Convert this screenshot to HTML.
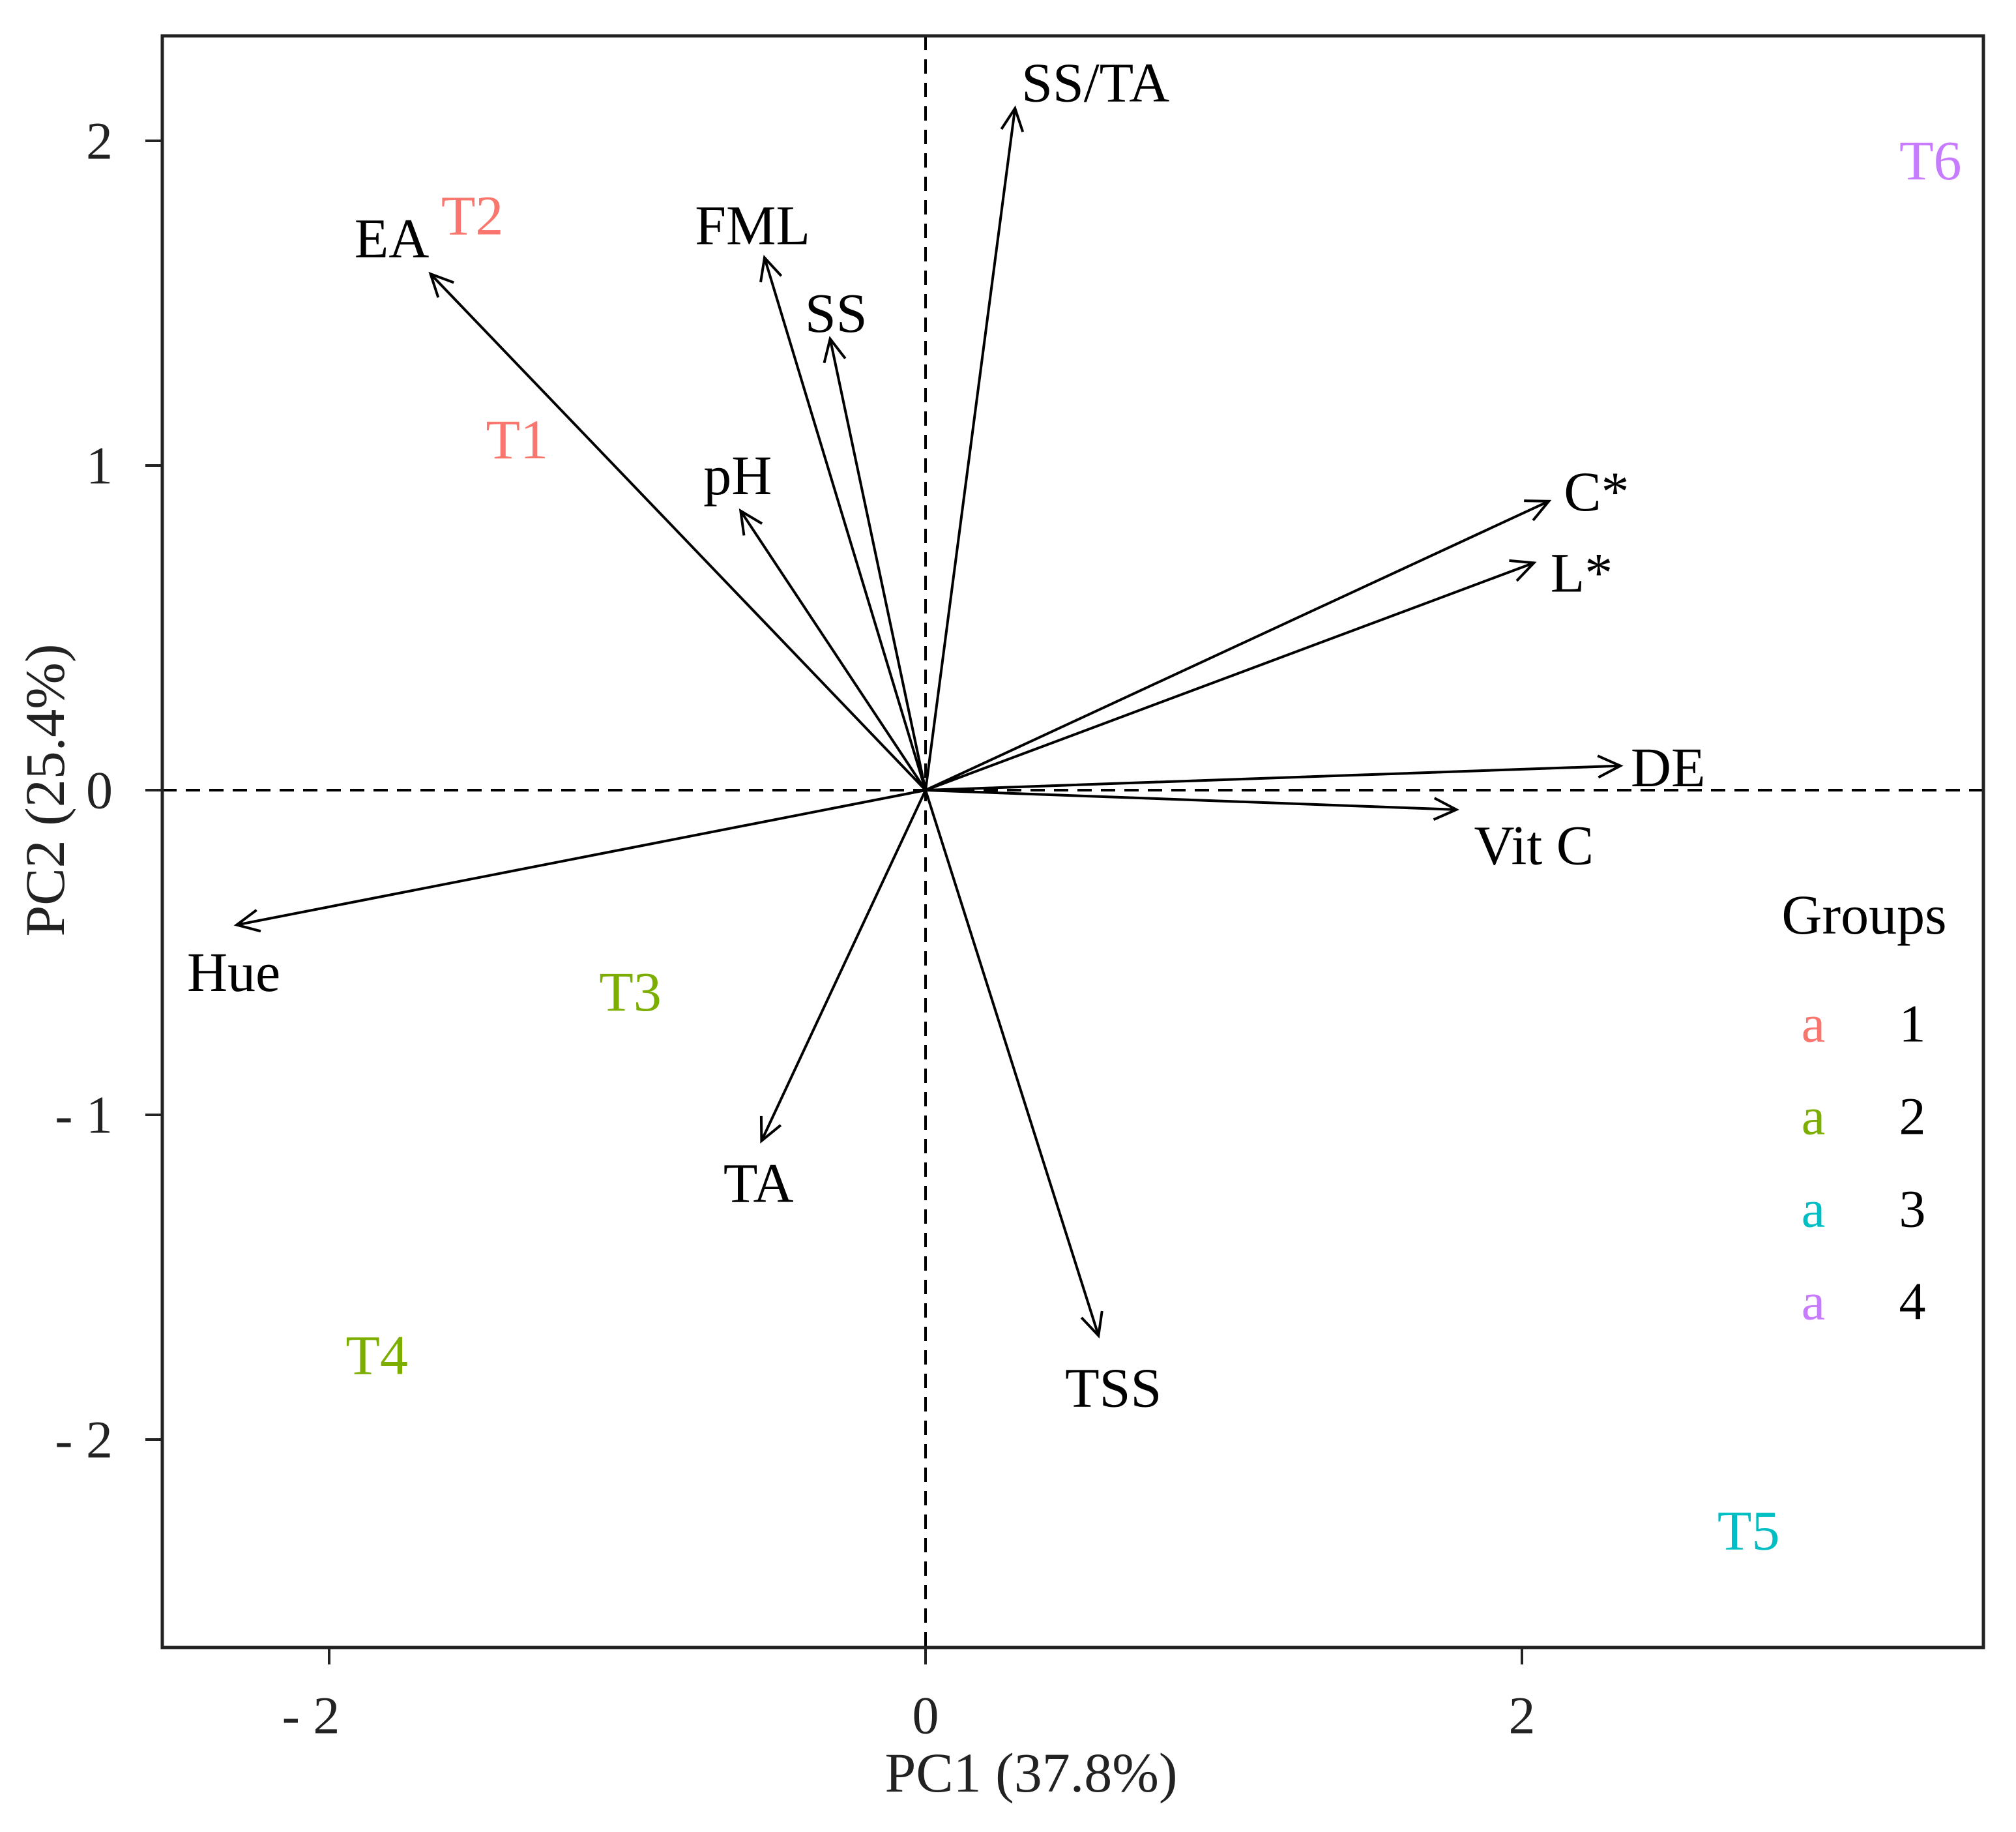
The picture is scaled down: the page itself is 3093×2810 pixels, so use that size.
<!DOCTYPE html>
<html><head><meta charset="utf-8"><style>
html,body{margin:0;padding:0;background:#fff;}
svg{display:block;font-family:"Liberation Serif",serif;}
</style></head><body>
<svg id="chart" width="3093" height="2810" viewBox="0 0 3093 2810" xmlns="http://www.w3.org/2000/svg">
<g id="plot"></g>
</svg>
<script>
const varNames = ["SS/TA","FML","SS","EA","pH","C*","L*","DE","Vit C","Hue","TA","TSS"];
const varX = [0.30,-0.54,-0.32,-1.66,-0.62,2.09,2.04,2.33,1.78,-2.31,-0.55,0.58];
const varY = [2.10,1.64,1.39,1.59,0.86,0.89,0.70,0.075,-0.06,-0.415,-1.08,-1.68];
const labelX = [0.57,-0.58,-0.30,-1.79,-0.63,2.25,2.20,2.49,2.04,-2.32,-0.56,0.63];
const labelY = [2.18,1.74,1.47,1.70,0.97,0.92,0.67,0.07,-0.17,-0.56,-1.21,-1.84];
const obsNames = ["T1","T2","T3","T4","T5","T6"];
const obsX = [-1.37,-1.52,-0.99,-1.84,2.76,3.37];
const obsY = [1.08,1.77,-0.62,-1.74,-2.28,1.94];
const obsGroup = [1,1,2,2,3,4];
const groupColors = ["#F8766D","#7CAE00","#00BFC4","#C77CFF"];
const groupLabels = ["1","2","3","4"];
const xTicks = [-2,0,2];
const xTickLabels = ["- 2","0","2"];
const yTicks = [-2,-1,0,1,2];
const yTickLabels = ["- 2","- 1","0","1","2"];

const L=249,R=3043,T=55,B=2527;
const sx=v=>1420+v*457.5;
const sy=v=>1212-v*498;
const NS="http://www.w3.org/2000/svg";
const g=document.getElementById('plot');
function mk(tag,attrs,parent){const e=document.createElementNS(NS,tag);for(const k in attrs)e.setAttribute(k,attrs[k]);(parent||g).appendChild(e);return e;}
function txt(x,y,s,size,fill,anchor){const t=mk('text',{x:x,y:y,'font-size':size,fill:fill,'text-anchor':anchor||'middle','dominant-baseline':'central'});t.textContent=s;return t;}

let e=mk('line',{x1:sx(0),x2:sx(0),y1:T,y2:B,stroke:'#000','stroke-width':4,'stroke-dasharray':'22,14'});


e=mk('line',{x1:L,x2:R,y1:sy(0),y2:sy(0),stroke:'#000','stroke-width':4,'stroke-dasharray':'22,14'});



for(let i=0;i<varNames.length;i++){
  const x0=sx(0),y0=sy(0),x1=sx(varX[i]),y1=sy(varY[i]);
  const a=Math.atan2(y1-y0,x1-x0),h=38,w=0.45;
  const p=`M${x0},${y0}L${x1},${y1}M${x1-h*Math.cos(a-w)},${y1-h*Math.sin(a-w)}L${x1},${y1}L${x1-h*Math.cos(a+w)},${y1-h*Math.sin(a+w)}`;
  const ar=mk('path',{d:p,stroke:'#000','stroke-width':4,fill:'none'});
  
  
  const lb=txt(sx(labelX[i]),sy(labelY[i]),varNames[i],86,'#000');
  
  
}
for(let i=0;i<obsNames.length;i++){
  const t=txt(sx(obsX[i]),sy(obsY[i]),obsNames[i],86,groupColors[obsGroup[i]-1]);
  
  
}
e=mk('rect',{x:L,y:T,width:R-L,height:B-T,fill:'none',stroke:'#222','stroke-width':5});


for(let i=0;i<xTicks.length;i++){
  const tk=mk('line',{x1:sx(xTicks[i]),x2:sx(xTicks[i]),y1:B,y2:B+26,stroke:'#222','stroke-width':4});
  
  
  const tl=txt(sx(xTicks[i])-(xTicks[i]<0?28:0),B+104,xTickLabels[i],82,'#222');
  
  
}
for(let i=0;i<yTicks.length;i++){
  const tk=mk('line',{x1:L-26,x2:L,y1:sy(yTicks[i]),y2:sy(yTicks[i]),stroke:'#222','stroke-width':4});
  
  
  const tl=txt(L-76,sy(yTicks[i]),yTickLabels[i],82,'#222','end');
  
  
}
e=txt(1582,2719,'PC1 (37.8%)',86,'#222');


e=txt(0,0,'PC2 (25.4%)',86,'#222');
e.setAttribute('transform','translate(69,1212) rotate(-90)');


e=txt(2860,1403,'Groups',86,'#000');


for(let i=0;i<groupLabels.length;i++){
  const y=1570+i*142;
  const k=txt(2782,y,'a',82,groupColors[i]);
  
  
  const l=txt(2934,y,groupLabels[i],82,'#000');
  
  
}
</script>
</body></html>
